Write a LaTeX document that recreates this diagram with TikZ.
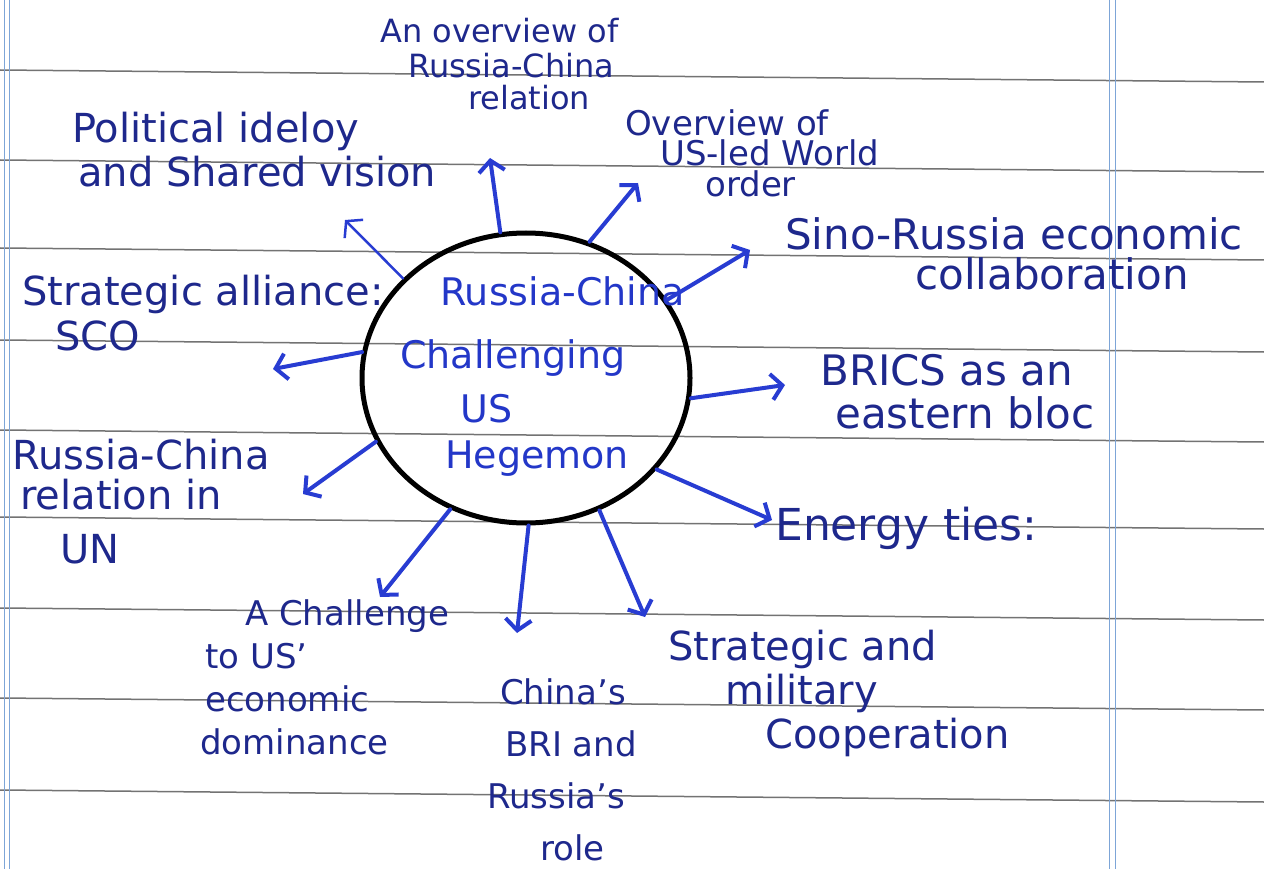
\documentclass[tikz,border=0pt]{standalone}
\usepackage{fontspec}
\setmainfont{DejaVu Sans}
\usetikzlibrary{arrows.meta,shapes.geometric}
\definecolor{ink}{RGB}{30,40,140}
\definecolor{hubink}{RGB}{35,55,200}
\definecolor{arrowblue}{RGB}{40,60,210}
\definecolor{rulegray}{RGB}{115,115,115}
\definecolor{marginblue}{RGB}{125,165,215}
\newcommand{\fsz}[2]{\fontsize{#1}{#2}\selectfont}
\begin{document}
\begin{tikzpicture}[x=1pt,y=-1pt,
  lab/.style={text=ink,inner sep=0pt,anchor=base west,align=left},
  hubtext/.style={text=hubink,inner sep=0pt,anchor=base west,align=left},
  conn/.style={draw=arrowblue,line width=4pt,line cap=round,-{Straight Barb[length=11pt,width=26pt]}},
]
\fill[white] (0,0) rectangle (1264,869);
\useasboundingbox (0,0) rectangle (1264,869);
% ruled paper
\foreach \a/\b in {70/82,160/172,248/260,340/352,430/442,517/529,608/620,698/710,790/802}
  \draw[rulegray,line width=1.5pt] (0,\a) -- (1264,\b);
\foreach \x in {4,9,1109,1115}
  \draw[marginblue,line width=1pt] (\x,0) -- (\x,869);

% central circle
\node[draw=black,line width=5pt,ellipse,minimum width=328pt,minimum height=290pt,inner sep=0pt] (hub) at (526,378) {};
\node[hubtext,font=\fsz{38}{50}] (hubt) at (400,468)
  {\hspace*{40pt}Russia-China\\[13pt]Challenging\\[4pt]\hspace*{60pt}US\\[-4pt]\hspace*{45pt}Hegemon};

% labels (anchor = baseline of the last line)
\node[lab,font=\fsz{32}{35}] (ovrc) at (380,110)
  {An overview of\\\hspace*{28pt}Russia-China\\[-3pt]\hspace*{88pt}relation};
\node[lab,font=\fsz{40}{44}] (pol) at (72,187)
  {Political ideloy\\\hspace*{6pt}and Shared vision};
\node[lab,font=\fsz{34}{31}] (ovus) at (625,197)
  {Overview of\\\hspace*{35pt}US-led World\\\hspace*{80pt}order};
\node[lab,font=\fsz{42}{40}] (sino) at (785,290)
  {Sino-Russia economic\\\hspace*{130pt}collaboration};
\node[lab,font=\fsz{40}{45}] (sco) at (22,350)
  {Strategic alliance:\\\hspace*{33pt}SCO};
\node[lab,font=\fsz{42}{43}] (brics) at (820,428)
  {BRICS as an\\\hspace*{15pt}eastern bloc};
\node[lab,font=\fsz{40}{40}] (un) at (12,563)
  {Russia-China\\\hspace*{8pt}relation in\\[14pt]\hspace*{48pt}UN};
\node[lab,font=\fsz{44}{44}] (energy) at (775,540) {Energy ties:};
\node[lab,font=\fsz{34}{43}] (chal) at (200,754)
  {\hspace*{45pt}A Challenge\\\hspace*{5pt}to US'\\\hspace*{5pt}economic\\dominance};
\node[lab,font=\fsz{34}{52}] (bri) at (487,860)
  {\hspace*{13pt}China's\\\hspace*{18pt}BRI and\\Russia's\\\hspace*{53pt}role};
\node[lab,font=\fsz{40}{44}] (mil) at (668,748)
  {Strategic and\\\hspace*{57pt}military\\\hspace*{97pt}Cooperation};

% arrow tips
\coordinate (t1) at (490,158);
\coordinate (t2) at (638,183);
\coordinate (t3) at (750,250);
\coordinate (t4) at (785,385);
\coordinate (t5) at (772,520);
\coordinate (t6) at (645,617);
\coordinate (t7) at (517,633);
\coordinate (t8) at (380,597);
\coordinate (t9) at (303,494);
\coordinate (t10) at (273,369);
\coordinate (t11) at (345,220);

\draw[conn] (hub.100) -- (t1);
\draw[conn] (hub.65) -- (t2);
\draw[conn] (hub.29) -- (t3);
\draw[conn] (hub.-7) -- (t4);
\draw[conn] (hub.-35) -- (t5);
\draw[conn] (hub.-61) -- (t6);
\draw[conn] (hub.-89) -- (t7);
\draw[conn] (hub.-120) -- (t8);
\draw[conn] (hub.-157) -- (t9);
\draw[conn] (hub.171) -- (t10);
\draw[conn,line width=2.5pt] (hub.141) -- (t11);
\end{tikzpicture}
\end{document}
